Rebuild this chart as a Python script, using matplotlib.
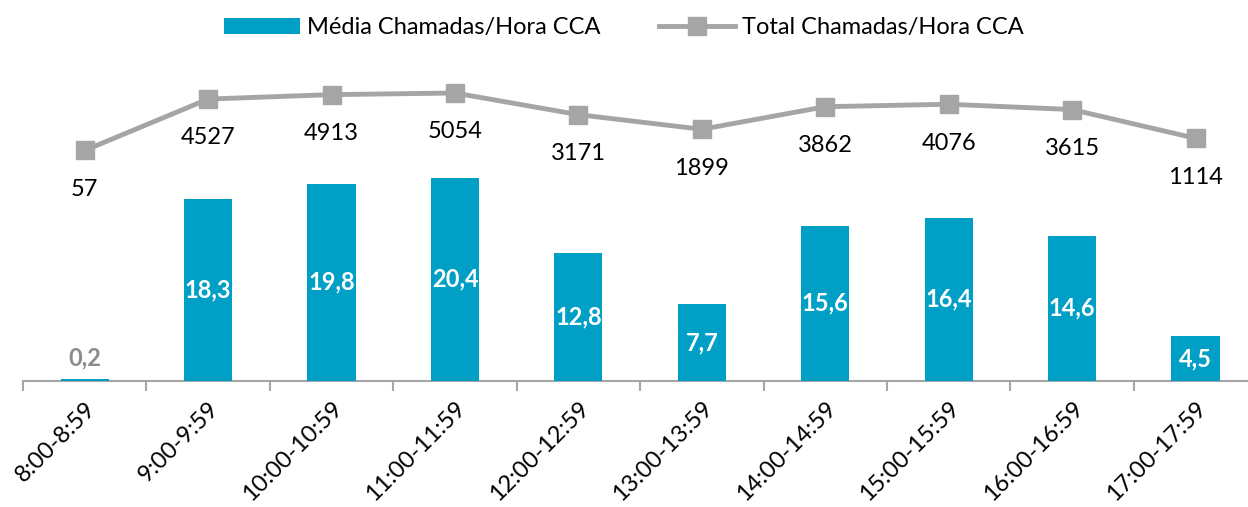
import matplotlib
matplotlib.use("Agg")
import matplotlib.pyplot as plt
import numpy as np

plt.rcParams['font.family'] = ['Lato', 'DejaVu Sans']

# data
horas = ["8:00-8:59", "9:00-9:59", "10:00-10:59", "11:00-11:59", "12:00-12:59",
         "13:00-13:59", "14:00-14:59", "15:00-15:59", "16:00-16:59", "17:00-17:59"]
media_hora = [0.2, 18.3, 19.8, 20.4, 12.8, 7.7, 15.6, 16.4, 14.6, 4.5]
total_hora = [57, 4527, 4913, 5054, 3171, 1899, 3862, 4076, 3615, 1114]

bar_color = "#009FC6"
line_color = "#A5A5A5"
axis_color = "#A6A6A6"
fs = 17

fig = plt.figure(figsize=(12.48, 5.07), dpi=100)
# plot area runs slightly past the right edge, as in the original
ax = fig.add_axes([0.0184, 0.2485, 0.989, 0.5895])
ax2 = ax.twinx()

x = np.arange(len(horas))
bars = ax.bar(x, media_hora, width=0.39, color=bar_color, label="Média Chamadas/Hora CCA", zorder=3)
ax.set_xlim(-0.5, len(horas) - 0.5)
ax.set_ylim(0, 30)

line, = ax2.plot(x, total_hora, color=line_color, lw=3.5, marker="s", markersize=13,
                 label="Total Chamadas/Hora CCA", zorder=3)
ax2.set_ylim(-20000, 6000)

# bar labels
for xi, v in zip(x, media_hora):
    txt = f"{v:.1f}".replace(".", ",")
    if v < 2:
        ax.text(xi, v + 1.0, txt, ha="center", va="bottom", color="#8C8C8C",
                fontsize=fs, fontweight="bold")
    else:
        ax.text(xi, v / 2, txt, ha="center", va="center", color="white",
                fontsize=fs, fontweight="bold")

# line labels
for xi, v in zip(x, total_hora):
    ax2.annotate(str(v), (xi, v), xytext=(0, -28), textcoords="offset points",
                 ha="center", va="center", fontsize=fs, color="black")

# axes styling
for a in (ax, ax2):
    for s in ("top", "right", "left"):
        a.spines[s].set_visible(False)
    a.set_yticks([])
ax2.spines["bottom"].set_visible(False)
ax.spines["bottom"].set_color(axis_color)
ax.spines["bottom"].set_linewidth(1.5)

ax.set_xticks(x)
ax.set_xticklabels(horas, rotation=45, ha="right", rotation_mode="anchor", fontsize=fs)
ax.tick_params(axis="x", which="major", length=0, pad=12)
ax.set_xticks(np.arange(-0.5, len(horas)), minor=True)
ax.tick_params(axis="x", which="minor", length=7, width=1.5, color=axis_color)

fig.legend(handles=[bars, line], loc="upper center", bbox_to_anchor=(0.5, 1.008),
           ncol=2, frameon=False, fontsize=fs, handlelength=3.2, columnspacing=2.5,
           handletextpad=0.3)

fig.savefig("out.png", dpi=100)
